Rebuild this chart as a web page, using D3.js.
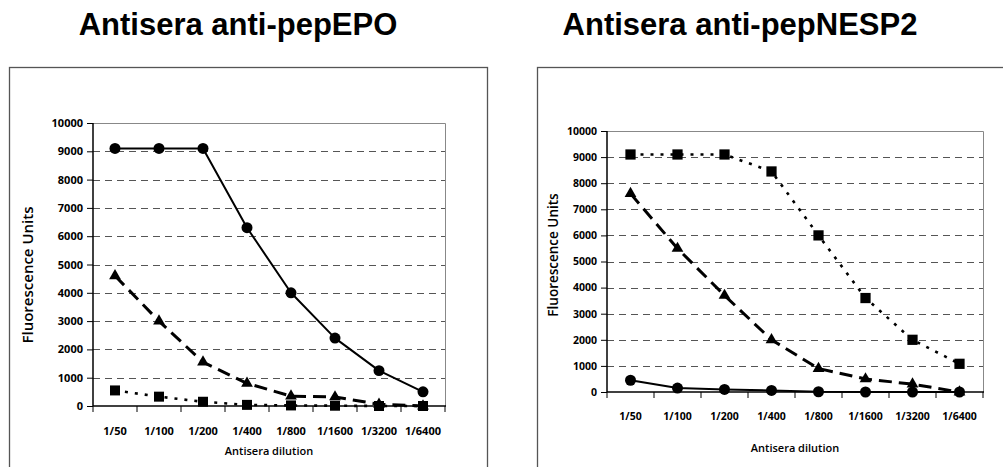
<!DOCTYPE html>
<html><head><meta charset="utf-8">
<script src="https://cdn.jsdelivr.net/npm/d3@7"></script>
<style>body{margin:0;background:#fff} svg{display:block}</style>
</head><body>
<svg id="c" width="1003" height="467"></svg>
<script>
// ---- data ----
const dilutions = ["1/50","1/100","1/200","1/400","1/800","1/1600","1/3200","1/6400"];
const yTickValues = [0,1000,2000,3000,4000,5000,6000,7000,8000,9000,10000];
const titles = ["Antisera anti-pepEPO","Antisera anti-pepNESP2"];
const yAxisTitle = "Fluorescence Units";
const xAxisTitle = "Antisera dilution";

const epoCircle   = [9100,9100,9100,6300,4000,2400,1250,500];
const epoTriangle = [4600,3000,1550,800,350,320,60,0];
const epoSquare   = [550,330,150,40,20,10,0,0];

const nespCircle   = [450,150,100,60,10,0,0,0];
const nespTriangle = [7600,5500,3700,2000,900,500,300,0];
const nespSquare   = [9100,9100,9100,8450,6000,3600,2000,1080];

// ---- layout / style (not data) ----
const panels = [
  {title:titles[0], titleX:238, titleY:35, frame:{x:9,y:67,w:478,h:420},
   plot:{l:93,r:445,t:123,b:406}, yLabX:28, yLabY:275, xTickY:431, xTitleY:451,
   tickFont:11, series:[
     {v:epoSquare, sym:d3.symbolSquare, size:100, dash:"3,7", w:2.6},
     {v:epoTriangle, sym:d3.symbolTriangle, size:60, dash:"13,7", w:3},
     {v:epoCircle, sym:d3.symbolCircle, size:95, dash:null, w:2}
   ]},
  {title:titles[1], titleX:740, titleY:35, frame:{x:537,y:67,w:480,h:420},
   plot:{l:607,r:983,t:131,b:392}, yLabX:553, yLabY:255, xTickY:416, xTitleY:448,
   tickFont:10.5, series:[
     {v:nespCircle, sym:d3.symbolCircle, size:95, dash:null, w:2},
     {v:nespTriangle, sym:d3.symbolTriangle, size:60, dash:"13,7", w:3},
     {v:nespSquare, sym:d3.symbolSquare, size:105, dash:"3,7", w:2.6}
   ]}
];

const svg = d3.select("#c");
const FONT = "'Open Sans', 'DejaVu Sans', sans-serif";

panels.forEach(p => {
  const g = svg.append("g");
  // title
  g.append("text").attr("x", p.titleX).attr("y", p.titleY)
    .attr("text-anchor","middle").attr("font-family","'Liberation Sans', Arial, sans-serif")
    .attr("font-weight","bold").attr("font-size",31).attr("fill","#000").text(p.title);
  // frame
  g.append("rect").attr("x",p.frame.x+0.5).attr("y",p.frame.y+0.5)
    .attr("width",p.frame.w).attr("height",p.frame.h)
    .attr("fill","none").attr("stroke","#555").attr("stroke-width",1.3);

  const x = d3.scaleBand().domain(dilutions).range([p.plot.l, p.plot.r]).paddingInner(0).paddingOuter(0);
  const y = d3.scaleLinear().domain([0,10000]).range([p.plot.b, p.plot.t]);

  // grid lines
  g.append("g").selectAll("line").data(yTickValues.filter(d => d>0 && d<10000)).join("line")
    .attr("x1", p.plot.l).attr("x2", p.plot.r)
    .attr("y1", d => Math.round(y(d))+0.5).attr("y2", d => Math.round(y(d))+0.5)
    .attr("stroke","#555").attr("stroke-width",1).attr("stroke-dasharray","7,5");
  // plot border top & right (gray)
  g.append("path")
    .attr("d", `M${p.plot.l},${Math.round(y(10000))+0.5}H${p.plot.r+0.5}V${p.plot.b}`)
    .attr("fill","none").attr("stroke","#888").attr("stroke-width",1);

  // y axis
  const ya = g.append("g").attr("transform",`translate(${p.plot.l},0)`)
    .call(d3.axisLeft(y).tickValues(yTickValues).tickSize(6).tickPadding(4).tickFormat(d3.format("d")));
  ya.select(".domain").attr("stroke","#000").attr("stroke-width",1.5).attr("d",`M0,${y(10000)}V${y(0)}`);
  ya.selectAll(".tick line").attr("stroke","#000");
  ya.selectAll(".tick text").attr("font-family",FONT).attr("font-weight",700)
    .attr("font-size",p.tickFont).attr("fill","#000");

  // x axis (labels at band centres)
  const xa = g.append("g").attr("transform",`translate(0,${p.plot.b})`)
    .call(d3.axisBottom(x).tickSize(0).tickPadding(0));
  xa.select(".domain").attr("stroke","#000").attr("stroke-width",1.5).attr("d",`M${p.plot.l},0H${p.plot.r+1}`);
  xa.selectAll(".tick text").attr("font-family",FONT).attr("font-weight",700)
    .attr("font-size",p.tickFont).attr("fill","#000")
    .attr("y", p.xTickY - p.plot.b).attr("dy","0.35em");
  // tick marks at band boundaries
  const bounds = dilutions.map(d => x(d)).concat([x(dilutions[dilutions.length-1]) + x.bandwidth()]);
  g.append("g").selectAll("line").data(bounds).join("line")
    .attr("x1", d => d).attr("x2", d => d)
    .attr("y1", p.plot.b).attr("y2", p.plot.b + 6)
    .attr("stroke","#000").attr("stroke-width",1);

  // axis titles
  g.append("text").attr("x", (p.plot.l+p.plot.r)/2).attr("y", p.xTitleY).attr("dy","0.35em")
    .attr("text-anchor","middle").attr("font-family",FONT).attr("font-weight",600)
    .attr("font-size",11).attr("fill","#000").text(xAxisTitle);
  g.append("text").attr("transform",`translate(${p.yLabX},${p.yLabY}) rotate(-90)`)
    .attr("dy","0.35em").attr("text-anchor","middle").attr("font-family",FONT)
    .attr("font-weight",600).attr("font-size",p.tickFont === 11 ? 15 : 13.5).attr("fill","#000").text(yAxisTitle);

  // series
  p.series.forEach(s => {
    const pts = s.v.map((v,i) => [x(dilutions[i]) + x.bandwidth()/2, y(v)]);
    g.append("path").datum(pts).attr("d", d3.line())
      .attr("fill","none").attr("stroke","#000").attr("stroke-width",s.w)
      .attr("stroke-dasharray", s.dash).attr("stroke-linejoin","round");
    g.append("g").selectAll("path").data(pts).join("path")
      .attr("transform", d => `translate(${d[0]},${d[1]})`)
      .attr("d", d3.symbol().type(s.sym).size(s.size)())
      .attr("fill","#000");
  });
});
</script>
</body></html>
